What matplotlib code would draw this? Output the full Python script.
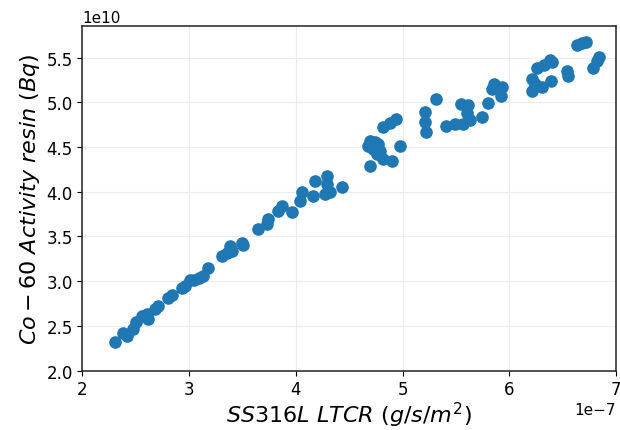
import numpy as np
import matplotlib
matplotlib.use('Agg')
from matplotlib import pyplot as plt

# SS316L long-term corrosion release (x 1e-7 g/s/m^2)
ltcr = [2.305, 2.384, 2.414, 2.476, 2.506, 2.555, 2.602, 2.617, 2.679, 2.710,
        2.804, 2.836, 2.930, 2.961, 3.007, 3.045, 3.092, 3.132, 3.176, 3.305,
        3.351, 3.382, 3.406, 3.492, 3.507, 3.648, 3.726, 3.741, 3.835, 3.867,
        3.961, 4.038, 4.054, 4.157, 4.179, 4.289, 4.291, 4.273, 4.320, 4.429,
        4.694, 4.679, 4.741, 4.772, 4.725, 4.788, 4.757, 4.819, 4.901, 4.699,
        4.980, 4.816, 4.882, 4.938, 5.207, 5.210, 5.217, 5.313, 5.407, 5.491,
        5.571, 5.543, 5.616, 5.601, 5.632, 5.741, 5.800, 5.835, 5.861, 5.929,
        5.922, 6.210, 6.217, 6.241, 6.257, 6.304, 6.330, 6.386, 6.397, 6.394,
        6.538, 6.553, 6.634, 6.679, 6.722, 6.787, 6.822, 6.843]

# Co-60 activity in the resin (x 1e10 Bq)
activity = [2.322, 2.425, 2.386, 2.464, 2.546, 2.613, 2.632, 2.576, 2.688, 2.725,
            2.811, 2.850, 2.923, 2.945, 3.012, 3.012, 3.035, 3.057, 3.143, 3.277,
            3.314, 3.389, 3.337, 3.426, 3.409, 3.583, 3.639, 3.695, 3.787, 3.837,
            3.773, 3.899, 4.000, 3.949, 4.123, 4.172, 4.086, 3.980, 3.993, 4.058,
            4.570, 4.515, 4.553, 4.534, 4.478, 4.459, 4.422, 4.366, 4.349, 4.287,
            4.508, 4.720, 4.772, 4.813, 4.895, 4.783, 4.664, 5.040, 4.735, 4.757,
            4.763, 4.987, 4.970, 4.880, 4.802, 4.841, 4.992, 5.149, 5.205, 5.168,
            5.067, 5.130, 5.261, 5.205, 5.387, 5.168, 5.423, 5.479, 5.451, 5.242,
            5.350, 5.300, 5.641, 5.667, 5.678, 5.380, 5.465, 5.503]

x = np.array(ltcr) * 1e-7
y = np.array(activity) * 1e10

fig, ax = plt.subplots(figsize=(6.2, 4.31), dpi=100)
fig.subplots_adjust(left=0.133, right=0.9935, bottom=0.138, top=0.937)

ax.scatter(x, y, s=65, color='#1f77b4', zorder=3)

ax.set_xlim(2e-7, 7e-7)
ax.set_ylim(2.0e10, 5.853e10)
ax.grid(True, color='0.92', lw=0.8)
ax.set_axisbelow(True)

ax.tick_params(labelsize=12)
ax.xaxis.get_offset_text().set_fontsize(11)
ax.yaxis.get_offset_text().set_fontsize(11)
for sp in ax.spines.values():
    sp.set_color('#222222')
    sp.set_linewidth(1.1)

ax.set_xlabel(r'$SS316L\ LTCR\ (g/s/m^2)$', fontsize=16, labelpad=1)
ax.set_ylabel(r'$Co-60\ Activity\ resin\ (Bq)$', fontsize=16, labelpad=3)

fig.savefig('out.png', dpi=100)
